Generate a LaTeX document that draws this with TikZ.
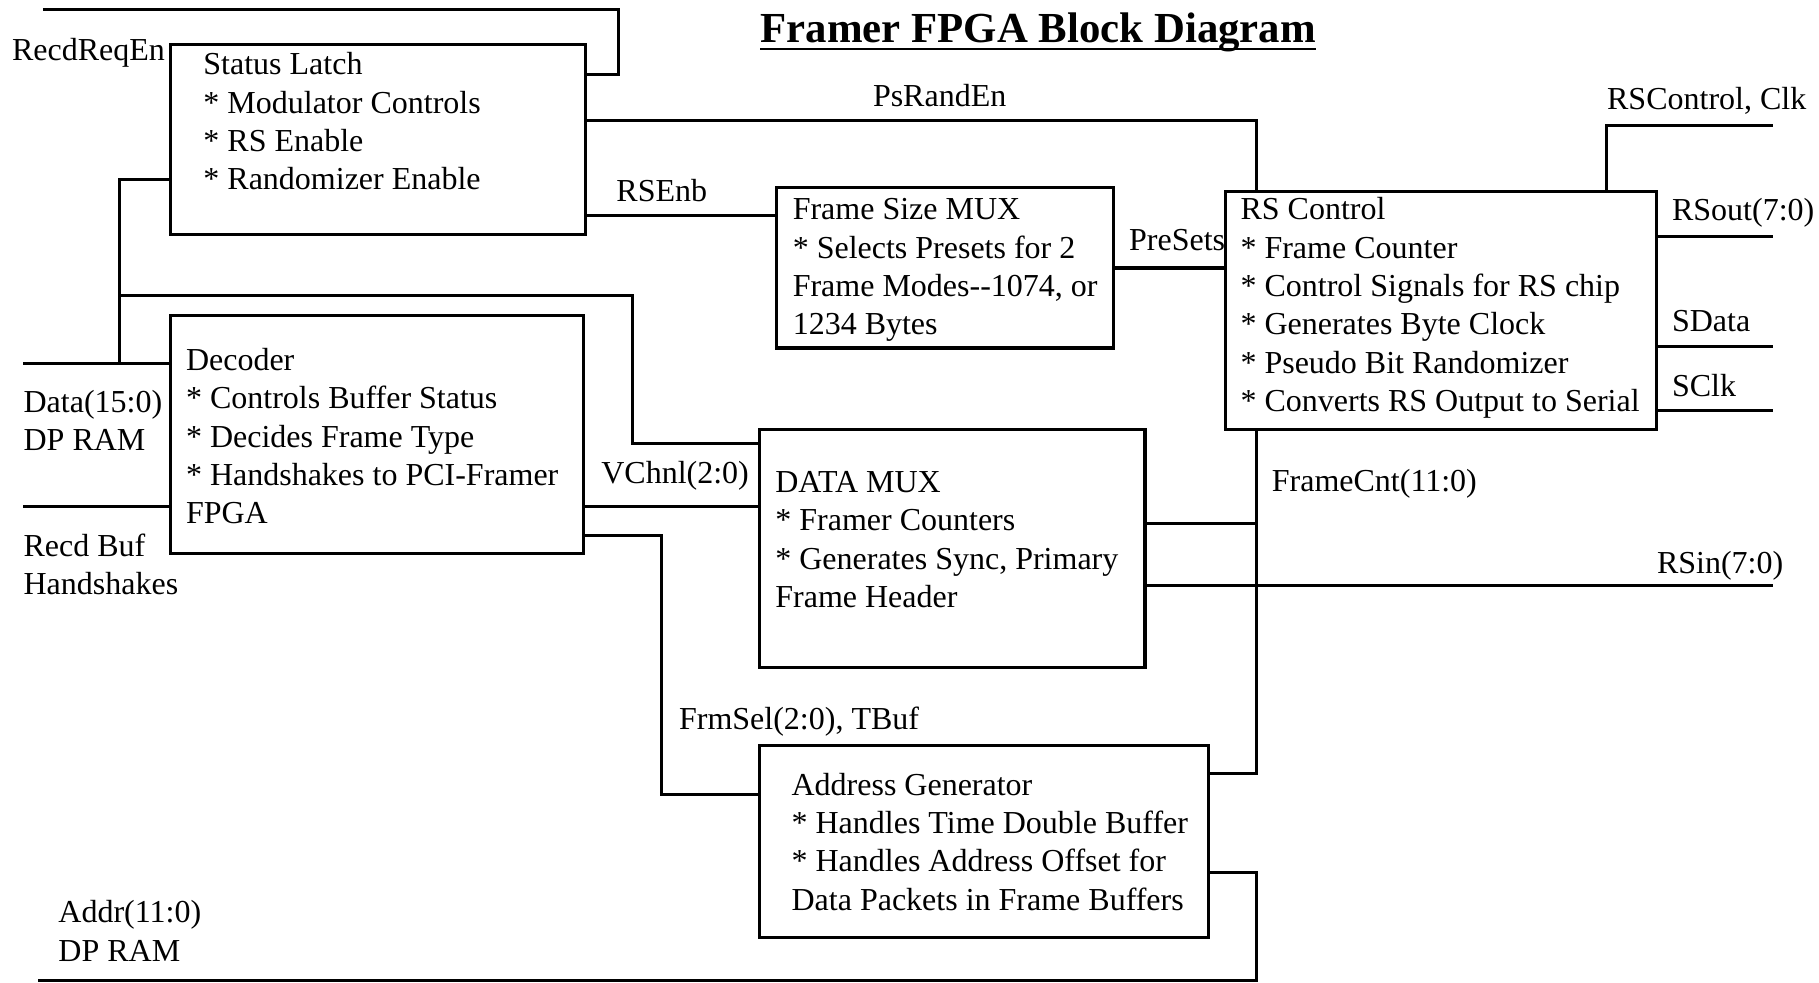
\documentclass[tikz,border=0pt]{standalone}
\usepackage{fontspec}
\setmainfont{Liberation Serif}
\usetikzlibrary{positioning,fit,calc}

\tikzset{
  blk/.style={draw=black,line width=1.5pt,inner sep=0pt},
  txt/.style={anchor=north west,inner sep=0pt,align=left,font=\fontsize{15.7}{18.8}\selectfont},
  sig/.style={anchor=base west,inner sep=0pt,font=\fontsize{15.7}{18.8}\selectfont},
  wire/.style={line width=1.5pt},
  ttl/.style={anchor=base,inner sep=0pt,font=\fontsize{21}{25}\selectfont\bfseries}
}

\begin{document}
\begin{tikzpicture}[x=0.02cm,y=-0.02cm]
  \useasboundingbox (0,0) rectangle (1568,847);

  \node [ttl] (title) at (895,37) {Framer FPGA Block Diagram};
  \draw [line width=1.3pt] ([yshift=-3pt]title.base west) -- ([yshift=-3pt]title.base east);

  \node [blk,fit={(147,38) (505,202)}] (sl) {};
  \node [txt] (sltxt) at (175,41) {\strut Status Latch\\* Modulator Controls\\* RS Enable\\* Randomizer Enable};
  \node [blk,fit={(147,272) (503,477)}] (dec) {};
  \node [txt] (dectxt) at (160,296) {\strut Decoder\\* Controls Buffer Status\\* Decides Frame Type\\* Handshakes to PCI-Framer\\FPGA};
  \node [blk,fit={(669,162) (960,300)}] (fsm) {};
  \node [txt] (fsmtxt) at (683,166) {\strut Frame Size MUX\\* Selects Presets for 2\\Frame Modes-{}-1074, or\\1234 Bytes};
  \node [blk,fit={(1056,165) (1428,370)}] (rsc) {};
  \node [txt] (rsctxt) at (1069,166) {\strut RS Control\\* Frame Counter\\* Control Signals for RS chip\\* Generates Byte Clock\\* Pseudo Bit Randomizer\\* Converts RS Output to Serial};
  \node [blk,fit={(655,370) (987,575)}] (dmux) {};
  \node [txt] (dmuxtxt) at (668,401) {\strut DATA MUX\\* Framer Counters\\* Generates Sync, Primary\\Frame Header};
  \node [blk,fit={(655,643) (1042,808)}] (agen) {};
  \node [txt] (agentxt) at (682,662) {\strut Address Generator\\* Handles Time Double Buffer\\* Handles Address Offset for\\Data Packets in Frame Buffers};

  \node [sig] (lrre) at (10,52) {RecdReqEn};
  \node [sig,anchor=base] (lps) at (810,92) {PsRandEn};
  \node [sig] (lrse) at (531,174) {RSEnb};
  \node [sig] (lpre) at (973,216) {PreSets};
  \node [sig] (lrsc) at (1385,94) {RSControl, Clk};
  \node [sig] (lro) at (1441,190) {RSout(7:0)};
  \node [sig] (lsd) at (1441,286) {SData};
  \node [sig] (lsc) at (1441,342) {SClk};
  \node [sig] (lfc) at (1096,424) {FrameCnt(11:0)};
  \node [sig] (lrsin) at (1428,494) {RSin(7:0)};
  \node [sig] (lvc) at (518,417) {VChnl(2:0)};
  \node [sig] (lfs) at (585,629) {FrmSel(2:0), TBuf};
  \node [txt] (ldata) at (20,332) {\strut Data(15:0)\\DP RAM};
  \node [txt] (lrb) at (20,456) {\strut Recd Buf\\Handshakes};
  \node [txt] (laddr) at (50,772) {\strut Addr(11:0)\\DP RAM};

  \coordinate (rre) at (37,8);
  \coordinate (rrb) at (533,64);
  \coordinate (din) at (20,313);
  \coordinate (jd) at (103,313);
  \coordinate (jb) at (103,255);
  \coordinate (vb) at (545,382);
  \coordinate (rbin) at (20,437);
  \coordinate (rscc) at (1528,108);
  \coordinate (fc) at (1083,667);
  \coordinate (rsin) at (1528,505);
  \coordinate (fs) at (570,685);
  \coordinate (ab) at (1083,845);
  \coordinate (aout) at (33,845);

  \draw [wire] (rre) -| (rrb) -- (sl.east |- rrb);
  \draw [wire] (sl.east |- 0,104) -| (rsc.north -| fc);
  \draw [wire] (sl.east |- 0,186) -- (fsm.west |- 0,186);
  \draw [wire] (sl.west |- 0,155) -| (jd);
  \draw [wire] (din) -- (dec.west |- din);
  \draw [wire] (jb) -| (vb) -- (dmux.west |- vb);
  \draw [wire] (rbin) -- (dec.west |- rbin);
  \draw [wire] (fsm.east |- 0,231) -- (rsc.west |- 0,231);
  \draw [wire] (rsc.north -| 1385,0) |- (rscc);
  \foreach \y/\n in {204/ro,299/sd,354/sc}{
    \coordinate (\n) at (1528,\y);
    \draw [wire] (rsc.east |- \n) -- (\n);
  }
  \draw [wire] (rsc.south -| fc) -- (fc) -- (agen.east |- fc);
  \draw [wire] (dmux.east |- 0,451) -- (fc |- 0,451);
  \draw [wire] (dmux.east |- rsin) -- (rsin);
  \draw [wire] (dec.east |- 0,437) -- (dmux.west |- 0,437);
  \draw [wire] (dec.east |- 0,462) -| (fs) -- (agen.west |- fs);
  \draw [wire] (agen.east |- 0,752) -| (ab) -- (aout);
\end{tikzpicture}
\end{document}
